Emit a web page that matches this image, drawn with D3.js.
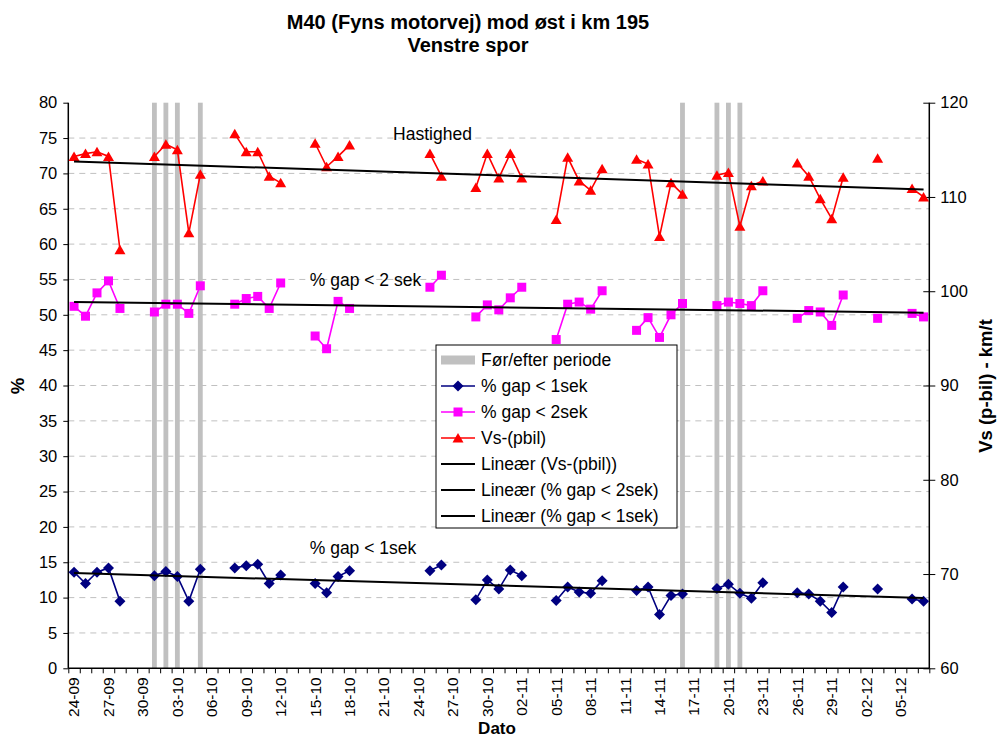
<!DOCTYPE html>
<html>
<head>
<meta charset="utf-8">
<script src="https://cdn.jsdelivr.net/npm/d3@7"></script>
<style>
  html, body { margin: 0; padding: 0; background: #fff; }
  svg { display: block; font-family: "Liberation Sans", Arial, sans-serif; }
</style>
</head>
<body>
<svg id="chart" width="998" height="739"></svg>
<script>
// One category per day, 24-09 through 07-12
const dates = d3.timeDay.range(new Date(2007, 8, 24), new Date(2007, 11, 8)).map(d3.timeFormat("%d-%m"));

// Days marked as before/after period
const periodDays = ["01-10", "02-10", "03-10", "05-10", "16-11", "19-11", "20-11", "21-11"];

// % gap < 1sek, one value per day (null = no measurement)
const gap1 = [13.6, 12.0, 13.6, 14.2, 9.5, null, null, 13.1, 13.7, 13.0, 9.5, 14.0, null, null,
  14.2, 14.5, 14.7, 12.0, 13.2, null, null, 12.0, 10.7, 13.0, 13.8, null, null, null, null, null, null,
  13.8, 14.6, null, null, 9.7, 12.5, 11.2, 13.9, 13.1, null, null, 9.6, 11.5, 10.8, 10.6, 12.4, null, null,
  11.0, 11.5, 7.6, 10.3, 10.5, null, null, 11.3, 11.9, 10.6, 9.9, 12.1, null, null,
  10.7, 10.5, 9.5, 7.9, 11.5, null, null, 11.2, null, null, 9.8, 9.5];

// % gap < 2sek
const gap2 = [51.2, 49.8, 53.1, 54.8, 50.9, null, null, 50.4, 51.5, 51.5, 50.2, 54.1, null, null,
  51.5, 52.3, 52.6, 50.9, 54.5, null, null, 47.0, 45.2, 51.9, 50.9, null, null, null, null, null, null,
  53.9, 55.6, null, null, 49.7, 51.4, 50.7, 52.4, 53.9, null, null, 46.5, 51.5, 51.8, 50.8, 53.4, null, null,
  47.8, 49.6, 46.8, 50.0, 51.6, null, null, 51.3, 51.8, 51.6, 51.3, 53.4, null, null,
  49.5, 50.6, 50.4, 48.5, 52.8, null, null, 49.5, null, null, 50.2, 49.7];

// Vs-(pbil), km/t
const speed = [114.3, 114.6, 114.8, 114.3, 104.4, null, null, 114.3, 115.6, 115.0, 106.2, 112.4, null, null,
  116.7, 114.8, 114.8, 112.2, 111.5, null, null, 115.7, 113.2, 114.3, 115.5, null, null, null, null, null, null,
  114.6, 112.2, null, null, 111.0, 114.6, 112.0, 114.6, 112.0, null, null, 107.6, 114.2, 111.7, 110.7, 113.0, null, null,
  114.0, 113.5, 105.8, 111.5, 110.3, null, null, 112.3, 112.6, 106.9, 111.2, 111.7, null, null,
  113.6, 112.2, 109.8, 107.7, 112.1, null, null, 114.1, null, null, 110.9, 110.0];

const leftTicks = d3.range(0, 81, 5);
const rightTicks = d3.range(60, 121, 10);

const svg = d3.select("#chart");
const L = 68.3, R = 929.3, T = 102.7, B = 668.3;
const FONT = "Liberation Sans, Arial, sans-serif";

const x = d3.scaleBand().domain(dates).range([L, R]);
const cx = d => x(d) + x.bandwidth() / 2;
const yL = d3.scaleLinear().domain([0, 80]).range([B, T]);
const yR = d3.scaleLinear().domain([60, 120]).range([B, T]);

// Titles
svg.append("text").attr("x", 468).attr("y", 29).attr("text-anchor", "middle")
  .style("font-weight", "bold").style("font-size", "20px").text("M40 (Fyns motorvej) mod øst i km 195");
svg.append("text").attr("x", 468).attr("y", 52).attr("text-anchor", "middle")
  .style("font-weight", "bold").style("font-size", "20px").text("Venstre spor");

// Gridlines
svg.append("g").selectAll("line").data(leftTicks.filter(v => v > 0 && v < 80)).join("line")
  .attr("x1", L).attr("x2", R).attr("y1", d => yL(d)).attr("y2", d => yL(d))
  .attr("stroke", "#c0c0c0").attr("stroke-width", 1).attr("stroke-dasharray", "6,5");

// Before/after period bars
const barW = x.bandwidth() * 0.42;
svg.append("g").selectAll("rect").data(periodDays).join("rect")
  .attr("x", d => cx(d) - barW / 2).attr("width", barW)
  .attr("y", yL(80)).attr("height", yL(0) - yL(80))
  .attr("fill", "#c0c0c0");

// Left axis
const gL = svg.append("g").attr("transform", `translate(${L},0)`)
  .call(d3.axisLeft(yL).tickValues(leftTicks).tickSize(5).tickPadding(6).tickFormat(d3.format("d")));
gL.select(".domain").attr("stroke", "#000").attr("stroke-width", 1.5).attr("d", `M0,${B}V${T}`);
gL.selectAll(".tick line").attr("stroke", "#000");
gL.selectAll("text").style("font-size", "16.5px").style("font-family", FONT);

// Right axis
const gR = svg.append("g").attr("transform", `translate(${R},0)`)
  .call(d3.axisRight(yR).tickValues(rightTicks).tickSize(6).tickPadding(5));
gR.select(".domain").attr("stroke", "#000").attr("stroke-width", 1.5).attr("d", `M0,${B}V${T}`);
gR.selectAll(".tick line").attr("x1", -6).attr("stroke", "#000");
gR.selectAll("text").style("font-size", "16.5px").style("font-family", FONT);

// Bottom axis: tick at every category boundary, label every third day
const edge = d3.scaleLinear().domain([0, dates.length]).range([L, R]);
const gB = svg.append("g").attr("transform", `translate(0,${B})`)
  .call(d3.axisBottom(edge).tickValues(d3.range(0, dates.length + 1)).tickSize(5).tickFormat(""));
gB.select(".domain").attr("stroke", "#000").attr("stroke-width", 1.5).attr("d", `M${L},0H${R}`);
gB.selectAll(".tick line").attr("stroke", "#000");

const labelDates = dates.filter((d, i) => i % 3 === 0);
const gX = svg.append("g").attr("transform", `translate(0,${B})`)
  .call(d3.axisBottom(x).tickValues(labelDates).tickSize(0));
gX.select(".domain").remove();
gX.selectAll("text")
  .attr("transform", "rotate(-90)").attr("x", -9).attr("y", 0).attr("dy", "0.35em")
  .style("text-anchor", "end").style("font-size", "15.5px").style("font-family", FONT);

// Axis titles
svg.append("text").attr("transform", "translate(23.5,386) rotate(-90)").attr("text-anchor", "middle")
  .style("font-weight", "bold").style("font-size", "18.5px").text("%");
svg.append("text").attr("transform", "translate(991.5,386) rotate(-90)").attr("text-anchor", "middle")
  .style("font-weight", "bold").style("font-size", "18.5px").text("Vs (p-bil) - km/t");
svg.append("text").attr("x", 497).attr("y", 734).attr("text-anchor", "middle")
  .style("font-weight", "bold").style("font-size", "17px").text("Dato");

// Marker shapes
const diamond = "M0,-5.5L5.5,0L0,5.5L-5.5,0Z";
const square = "M-4.5,-4.5H4.5V4.5H-4.5Z";
const triangle = "M0,-5L5.5,4.5L-5.5,4.5Z";

function series(values, y, color, shape) {
  const pts = values.map((v, i) => ({ d: dates[i], v }));
  const line = d3.line().defined(p => p.v != null).x(p => cx(p.d)).y(p => y(p.v));
  svg.append("path").datum(pts).attr("d", line)
    .attr("fill", "none").attr("stroke", color).attr("stroke-width", 1.6);
  svg.append("g").selectAll("path").data(pts.filter(p => p.v != null)).join("path")
    .attr("d", shape).attr("transform", p => `translate(${cx(p.d)},${y(p.v)})`)
    .attr("fill", color);
}

// Least-squares trend over the day index, drawn from first to last measured day
function trend(values, y) {
  const pts = values.map((v, i) => [i, v]).filter(p => p[1] != null);
  const mx = d3.mean(pts, p => p[0]), my = d3.mean(pts, p => p[1]);
  const b = d3.sum(pts, p => (p[0] - mx) * (p[1] - my)) / d3.sum(pts, p => (p[0] - mx) ** 2);
  const a = my - b * mx;
  const i0 = pts[0][0], i1 = pts[pts.length - 1][0];
  svg.append("line")
    .attr("x1", cx(dates[i0])).attr("y1", y(a + b * i0))
    .attr("x2", cx(dates[i1])).attr("y2", y(a + b * i1))
    .attr("stroke", "#000").attr("stroke-width", 2);
}

series(gap1, yL, "#000080", diamond);
series(gap2, yL, "#ff00ff", square);
series(speed, yR, "#ff0000", triangle);
trend(speed, yR);
trend(gap2, yL);
trend(gap1, yL);

// Annotations
svg.append("text").attr("x", 432.5).attr("y", 140).attr("text-anchor", "middle")
  .style("font-size", "17.5px").text("Hastighed");
svg.append("text").attr("x", 365.5).attr("y", 286).attr("text-anchor", "middle")
  .style("font-size", "17.5px").text("% gap < 2 sek");
svg.append("text").attr("x", 363).attr("y", 554).attr("text-anchor", "middle")
  .style("font-size", "17.5px").text("% gap < 1sek");

// Legend
const legendItems = [
  { label: "Før/efter periode", type: "bar", color: "#c0c0c0" },
  { label: "% gap < 1sek", type: "line", color: "#000080", shape: diamond },
  { label: "% gap < 2sek", type: "line", color: "#ff00ff", shape: square },
  { label: "Vs-(pbil)", type: "line", color: "#ff0000", shape: triangle },
  { label: "Lineær (Vs-(pbil))", type: "trend", color: "#000" },
  { label: "Lineær (% gap < 2sek)", type: "trend", color: "#000" },
  { label: "Lineær (% gap < 1sek)", type: "trend", color: "#000" }
];
const lg = svg.append("g").attr("transform", "translate(436,345)");
lg.append("rect").attr("width", 241).attr("height", 183)
  .attr("fill", "#fff").attr("stroke", "#000").attr("stroke-width", 1);
const rows = lg.selectAll("g").data(legendItems).join("g")
  .attr("transform", (d, i) => `translate(0,${15 + i * 26})`);
rows.filter(d => d.type === "bar").append("rect")
  .attr("x", 5).attr("y", -4.5).attr("width", 34).attr("height", 9).attr("fill", d => d.color);
rows.filter(d => d.type !== "bar").append("line")
  .attr("x1", 5).attr("x2", 39).attr("stroke", d => d.color)
  .attr("stroke-width", d => d.type === "trend" ? 2 : 1.6);
rows.filter(d => d.type === "line").append("path")
  .attr("d", d => d.shape).attr("transform", "translate(22,0)").attr("fill", d => d.color);
rows.append("text").attr("x", 45).attr("dy", "0.35em")
  .style("font-size", "17.5px").text(d => d.label);
</script>
</body>
</html>
